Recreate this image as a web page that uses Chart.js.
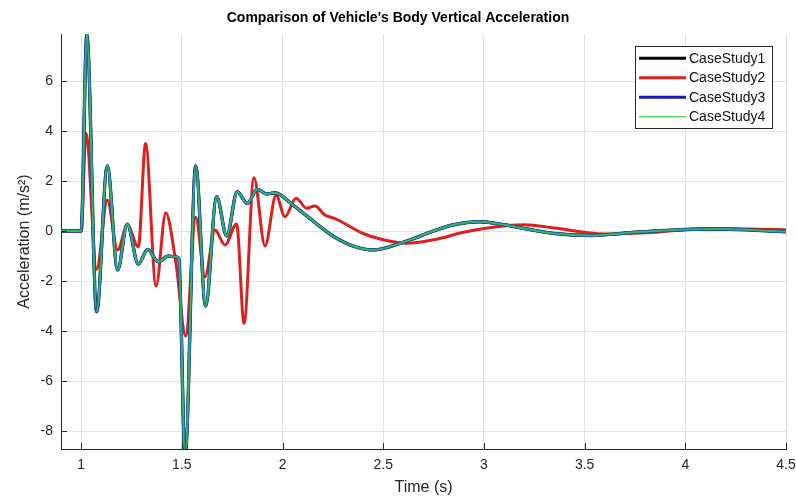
<!DOCTYPE html>
<html>
<head>
<meta charset="utf-8">
<script src="https://cdn.jsdelivr.net/npm/chart.js@4.4.0/dist/chart.umd.min.js"></script>
<style>
  html, body { margin: 0; padding: 0; background: #fff; }
</style>
</head>
<body>
<canvas id="myChart" width="796" height="500"></canvas>
<script>
// values
const timeCase1 = [0.9, 1.0, 1.028, 1.077, 1.13, 1.181, 1.229, 1.284, 1.33, 1.383, 1.433, 1.47, 1.485,
  1.516, 1.569, 1.618, 1.673, 1.723, 1.775, 1.825, 1.875, 1.921, 1.962, 2.05, 2.136, 2.25, 2.35, 2.45,
  2.6, 2.75, 2.85, 2.98, 3.1, 3.2, 3.35, 3.53, 3.75, 4.0, 4.17, 4.35, 4.5];
const accelCase1 = [0, 0, 7.9, -3.23, 2.6, -1.56, 0.27, -1.32, -0.74, -1.23, -1.0, -1.03, -1.1,
  -9.0, 2.6, -3.0, 1.37, -0.2, 1.57, 1.1, 1.67, 1.48, 1.53, 1.05, 0.5, -0.2, -0.6, -0.76,
  -0.45, 0.0, 0.25, 0.37, 0.25, 0.1, -0.1, -0.18, -0.05, 0.06, 0.08, 0.03, -0.03];

const timeCase2 = [0.9, 1.0, 1.024, 1.077, 1.13, 1.181, 1.229, 1.284, 1.32, 1.372, 1.42, 1.471, 1.519,
  1.569, 1.615, 1.665, 1.714, 1.772, 1.809, 1.858, 1.913, 1.968, 2.012, 2.067, 2.12, 2.161, 2.21, 2.26,
  2.4, 2.5, 2.616, 2.75, 2.9, 3.0, 3.12, 3.2, 3.35, 3.5, 3.6, 3.85, 4.1, 4.3, 4.5];
const accelCase2 = [0, 0, 3.9, -1.53, 1.24, -0.76, 0.24, -0.63, 3.5, -2.2, 0.73, -1.3, -4.2,
  0.55, -1.83, 0.04, -0.56, 0.28, -3.69, 2.13, -0.6, 1.44, 0.57, 1.31, 0.91, 1.0, 0.64, 0.5,
  -0.1, -0.35, -0.49, -0.35, -0.05, 0.1, 0.22, 0.25, 0.12, -0.05, -0.12, -0.05, 0.1, 0.08, 0.05];

// case studies 3 and 4 lie on top of case study 1 in the picture
const timeCase3 = timeCase1, accelCase3 = accelCase1;
const timeCase4 = timeCase1, accelCase4 = accelCase1;

const xTicks = [1, 1.5, 2, 2.5, 3, 3.5, 4, 4.5];
const yTicks = [-8, -6, -4, -2, 0, 2, 4, 6];

const FONT = "'Liberation Sans', Arial, Helvetica, sans-serif";
const AXIS = "#262626";

function pts(t, a) { return t.map((x, i) => ({ x: x, y: a[i] })); }

function line(label, t, a, color, width, order) {
  return {
    label: label, data: pts(t, a), borderColor: color, backgroundColor: color,
    borderWidth: width, pointRadius: 0, cubicInterpolationMode: "monotone",
    order: order, clip: 0
  };
}

const data = {
  datasets: [
    line("CaseStudy1", timeCase1, accelCase1, "#000000", 3, 4),
    line("CaseStudy2", timeCase2, accelCase2, "#dd1f1f", 3, 3),
    line("CaseStudy3", timeCase3, accelCase3, "#1c3fae", 3.4, 2),
    line("CaseStudy4", timeCase4, accelCase4, "#33b862", 2, 1)
  ]
};

// inward tick marks and the boxed legend, MATLAB style
const matlabBits = {
  id: "matlabBits",
  afterDraw(chart) {
    const ctx = chart.ctx, a = chart.chartArea;
    const xs = chart.scales.x, ys = chart.scales.y;
    ctx.save();
    ctx.strokeStyle = AXIS;
    ctx.lineWidth = 1;
    ctx.beginPath();
    xTicks.forEach(v => {
      const px = Math.round(xs.getPixelForValue(v)) + 0.5;
      ctx.moveTo(px, a.bottom); ctx.lineTo(px, a.bottom - 6);
    });
    yTicks.forEach(v => {
      const py = Math.round(ys.getPixelForValue(v)) + 0.5;
      ctx.moveTo(a.left, py); ctx.lineTo(a.left + 6, py);
    });
    ctx.stroke();

    // legend
    const bx = 635.5, by = 46.5, bw = 137, bh = 82;
    ctx.fillStyle = "#fff";
    ctx.fillRect(bx, by, bw, bh);
    ctx.strokeStyle = AXIS;
    ctx.strokeRect(bx, by, bw, bh);
    const rows = [58.3, 77.7, 97.3, 116.7];
    const legendWidths = [3, 3, 3, 1.5];
    const legendColors = ["#000000", "#dd1f1f", "#1a1ab8", "#5fdc5f"];
    ctx.font = "14px " + FONT;
    ctx.textBaseline = "middle";
    chart.data.datasets.forEach((d, i) => {
      ctx.strokeStyle = legendColors[i];
      ctx.lineWidth = legendWidths[i];
      ctx.beginPath();
      ctx.moveTo(639, rows[i]); ctx.lineTo(686, rows[i]);
      ctx.stroke();
      ctx.fillStyle = "#111";
      ctx.fillText(d.label, 689, rows[i] + 0.5);
    });
    ctx.restore();
  }
};

const config = {
  type: "line",
  data: data,
  options: {
    responsive: false,
    animation: false,
    layout: { padding: 0 },
    plugins: {
      legend: { display: false },
      tooltip: { enabled: false },
      title: {
        display: true,
        text: "Comparison of Vehicle's Body Vertical Acceleration",
        color: "#000",
        font: { family: FONT, size: 14, weight: "bold" },
        padding: { top: 10, bottom: 7.2 }
      }
    },
    scales: {
      x: {
        type: "linear",
        min: 0.9,
        max: 4.5,
        afterBuildTicks: s => { s.ticks = xTicks.map(v => ({ value: v })); },
        afterFit: s => { s.height = 51; s.paddingLeft = 0; s.paddingRight = 10; },
        ticks: {
          color: AXIS, padding: 8, font: { family: FONT, size: 14 }, maxRotation: 0,
          callback: v => String(v)
        },
        grid: { color: "#e3e3e3", drawTicks: false, tickLength: 0 },
        border: { color: AXIS, width: 1 },
        title: {
          display: true, text: "Time (s)", color: AXIS,
          font: { family: FONT, size: 16 }, padding: { top: 0, bottom: 2.4 }
        }
      },
      y: {
        min: -8.72,
        max: 7.88,
        afterBuildTicks: s => { s.ticks = yTicks.map(v => ({ value: v })); },
        afterFit: s => { s.width = 61; s.paddingTop = 0; s.paddingBottom = 0; },
        ticks: {
          color: AXIS, padding: 8, font: { family: FONT, size: 14 },
          callback: v => String(v)
        },
        grid: { color: "#e3e3e3", drawTicks: false, tickLength: 0 },
        border: { color: AXIS, width: 1 },
        title: {
          display: true, text: "Acceleration (m/s\u00B2)", color: AXIS,
          font: { family: FONT, size: 16 }, padding: { top: 15.4, bottom: 0 }
        }
      }
    }
  },
  plugins: [matlabBits]
};

const myChart = new Chart(document.getElementById("myChart"), config);
</script>
</body>
</html>
